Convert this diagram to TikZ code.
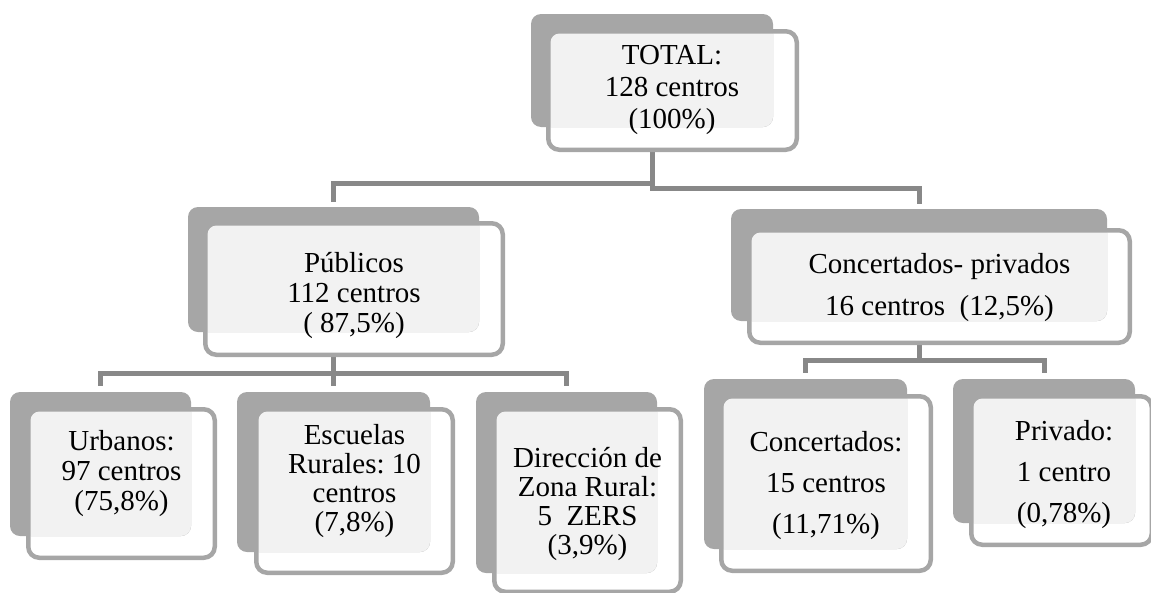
\documentclass[tikz,border=0pt]{standalone}
\usepackage{fontspec}
\setmainfont{Liberation Serif}
\usetikzlibrary{fit,calc}
\definecolor{backgray}{HTML}{A6A6A6}
\definecolor{framegray}{HTML}{A6A6A6}
\definecolor{conngray}{HTML}{888888}
\definecolor{lightfill}{HTML}{F2F2F2}
\frenchspacing
\tikzset{
  backbox/.style={fill=backgray, rounded corners=10pt, inner sep=0pt, outer sep=0pt},
  frontbox/.style={draw=framegray, line width=4.5pt, fill=white, rounded corners=11pt, inner sep=0pt, outer sep=0pt},
  conn/.style={draw=conngray, line width=5pt},
  lbl/.style={align=center, font=\fontsize{29}{30}\selectfont, inner sep=0pt, text=black},
  lblwide/.style={align=center, font=\fontsize{29}{42}\selectfont, inner sep=0pt, text=black},
}
\newcommand\lightpart[2]{%
  \begin{scope}
    \clip[rounded corners=10pt] (#1.south west) rectangle (#1.north east);
    \fill[lightfill, rounded corners=9pt] ([shift={(2.25pt,2.25pt)}]#2.south west) rectangle ([shift={(-2.25pt,-2.25pt)}]#2.north east);
  \end{scope}}
\begin{document}
\begin{tikzpicture}[x=1pt, y=-1pt]
\useasboundingbox (0,0) rectangle (1151,592);
% layout nodes (back boxes) first, for connectors
\path
  node[inner sep=0pt, outer sep=0pt, fit={(531,14) (773,127)}] (totalB) {}
  node[inner sep=0pt, outer sep=0pt, fit={(188,207) (479,332)}] (pubB) {}
  node[inner sep=0pt, outer sep=0pt, fit={(731,209) (1107,321)}] (cpB) {}
  node[inner sep=0pt, outer sep=0pt, fit={(10,392) (191,536)}] (urbB) {}
  node[inner sep=0pt, outer sep=0pt, fit={(237,392) (430,552)}] (escB) {}
  node[inner sep=0pt, outer sep=0pt, fit={(476,392) (657,573)}] (dirB) {}
  node[inner sep=0pt, outer sep=0pt, fit={(704,379) (907,549)}] (conB) {}
  node[inner sep=0pt, outer sep=0pt, fit={(953,379) (1135,523)}] (priB) {};
% connectors
\draw[conn] (totalB.center) |- ($(pubB.north)+(0,-24)$) -| ([yshift=5pt]pubB.north);
\draw[conn] (totalB.center) |- ($(cpB.north)+(0,-21)$) -| ([yshift=5pt]cpB.north);
\draw[conn] (pubB.center) |- ($(urbB.north)+(0,-19)$) -| ([yshift=6pt]urbB.north);
\draw[conn] (pubB.center) |- ($(escB.north)+(0,-19)$) -| ([yshift=6pt]escB.north);
\draw[conn] (pubB.center) |- ($(dirB.north)+(0,-19)$) -| ([yshift=6pt]dirB.north);
\draw[conn] (cpB.center) |- ($(conB.north)+(0,-19)$) -| ([yshift=6pt]conB.north);
\draw[conn] (cpB.center) |- ($(priB.north)+(0,-19)$) -| ([yshift=6pt]priB.north);
% TOTAL
\node[frontbox, fit={(548.25,31.25) (796.75,149.75)}] (totalF) {};
\fill[backbox] (totalB.south west) rectangle (totalB.north east);
\lightpart{totalB}{totalF}
\node[lbl, font=\fontsize{29}{32}\selectfont] (totalT) at (672,90) {TOTAL:\\128 centros\\(100\%)};
% Publicos
\node[frontbox, fit={(205.25,223.25) (502.75,354.75)}] (pubF) {};
\fill[backbox] (pubB.south west) rectangle (pubB.north east);
\lightpart{pubB}{pubF}
\node[lbl] (pubT) at (354,295) {Públicos\\112 centros\\( 87,5\%)};
% Concertados-privados
\node[frontbox, fit={(749.25,230.25) (1129.75,342.75)}] (cpF) {};
\fill[backbox] (cpB.south west) rectangle (cpB.north east);
\lightpart{cpB}{cpF}
\node[lblwide] (cpT) at (939.5,287.5) {Concertados- privados\\16 centros\ \ (12,5\%)};
% Urbanos
\node[frontbox, fit={(28.25,409.25) (214.75,557.75)}] (urbF) {};
\fill[backbox] (urbB.south west) rectangle (urbB.north east);
\lightpart{urbB}{urbF}
\node[lbl] (urbT) at (121.5,473.5) {Urbanos:\\97 centros\\(75,8\%)};
% Escuelas
\node[frontbox, fit={(256.25,409.25) (452.75,572.75)}] (escF) {};
\fill[backbox] (escB.south west) rectangle (escB.north east);
\lightpart{escB}{escF}
\node[lbl, font=\fontsize{29}{29}\selectfont] (escT) at (354.5,481.5) {Escuelas\\Rurales: 10\\centros\\(7,8\%)};
% Direccion
\node[frontbox, fit={(494.25,409.25) (680.75,591.75)}] (dirF) {};
\fill[backbox] (dirB.south west) rectangle (dirB.north east);
\lightpart{dirB}{dirF}
\node[lbl, font=\fontsize{29}{29}\selectfont] (dirT) at (587.5,503.5) {Dirección de\\Zona Rural:\\5\ \ ZERS\\(3,9\%)};
% Concertados
\node[frontbox, fit={(721.25,396.25) (930.75,570.75)}] (conF) {};
\fill[backbox] (conB.south west) rectangle (conB.north east);
\lightpart{conB}{conF}
\node[lblwide, font=\fontsize{29}{41}\selectfont] (conT) at (826,486) {Concertados:\\15 centros\\(11,71\%)};
% Privado
\node[frontbox, fit={(971.25,396.25) (1151.75,544.75)}] (priF) {};
\fill[backbox] (priB.south west) rectangle (priB.north east);
\lightpart{priB}{priF}
\node[lblwide, font=\fontsize{29}{41}\selectfont] (priT) at (1064,475) {Privado:\\1 centro\\(0,78\%)};
\end{tikzpicture}
\end{document}
